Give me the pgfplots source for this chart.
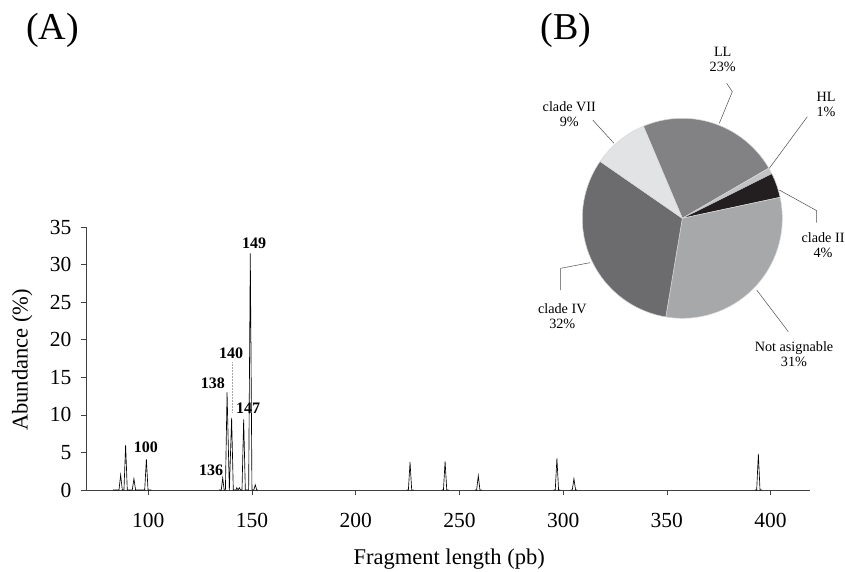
\documentclass[border=0pt]{standalone}
\usepackage{fontspec}
\setmainfont{Liberation Serif}
\usepackage{pgfplots}
\pgfplotsset{compat=1.18}
\usepackage{pgfplotstable}

\definecolor{cLL}{HTML}{828285}
\definecolor{cHL}{HTML}{C2C3C5}
\definecolor{cII}{HTML}{231F20}
\definecolor{cNA}{HTML}{A7A8AA}
\definecolor{cIV}{HTML}{6C6C6F}
\definecolor{cVII}{HTML}{E2E3E4}

% Fragment length (pb) vs abundance (%)
\pgfplotstableread{
x y
83 0
85.9 0
86.7 2.0
87.5 0
88.3 0
89.1 6.0
89.9 0
92.3 0
93.1 1.5
93.9 0
98.3 0
99.1 4.1
99.9 0
101.5 0
nan nan
134 0
135.2 0
135.9 1.6
136.6 0
137.2 0
138.0 13.0
139.1 0
140.2 9.6
141.0 0
142.3 0
142.7 0.3
143.3 0
143.9 0.3
144.5 0
145.2 0
146.0 9.4
146.8 0
148.4 0
149.2 31.5
150.0 0
150.9 0
151.6 0.7
152.3 0
152.9 0
nan nan
224.5 0
225.4 0
226.2 3.7
227.0 0
227.9 0
nan nan
241.4 0
242.3 0
243.1 3.8
243.9 0
244.8 0
nan nan
257.5 0
258.3 0
259.1 1.9
259.9 0
260.7 0
nan nan
295.4 0
296.2 0
297.0 4.2
297.8 0
298.7 0
nan nan
303.6 0
304.4 0
305.2 1.5
306.0 0
306.8 0
nan nan
392.4 0
393.3 0
394.1 4.8
394.9 0
395.8 0
}\peaks

\begin{document}
\begin{tikzpicture}
\path[use as bounding box] (0pt,0pt) rectangle (845pt,571pt);

\node[font=\fontsize{38}{40}\selectfont] at (52.5pt,541pt) {(A)};
\node[font=\fontsize{38}{40}\selectfont] at (566pt,541pt) {(B)};

\begin{axis}[
  at={(86pt,81pt)}, anchor=south west,
  scale only axis, width=724pt, height=263pt,
  xmin=70, xmax=419, ymin=0, ymax=35,
  axis x line*=bottom, axis y line*=left,
  axis line style={-, black!75, line width=0.7pt},
  xtick={100,150,...,400}, ytick={0,5,...,35},
  tick align=outside, major tick length=5pt,
  tick style={black!75, line width=0.6pt},
  /pgf/number format/assume math mode=true,
  ticklabel style={font=\fontsize{21.5}{24}\selectfont},
  xticklabel style={yshift=-15pt},
  yticklabel style={xshift=-6pt},
  xlabel={Fragment length (pb)}, ylabel={Abundance (\%)},
  label style={font=\fontsize{22.5}{26}\selectfont},
  xlabel style={at={(axis description cs:0.5017,-0.285)}, anchor=base},
  ylabel style={at={(axis description cs:-0.088,0.494)}, anchor=center},
  clip=false, unbounded coords=jump,
]
\addplot[black, line width=0.65pt, mark=none] table[x=x,y=y] {\peaks};
\addplot[black!35, densely dotted, line width=0.5pt, mark=none] coordinates {(140.5,17) (140.5,10.3)};
\begin{scope}[every node/.style={font=\bfseries\fontsize{16}{18}\selectfont}]
\node at (axis cs:151,32.9) {149};
\node at (axis cs:139.9,18.2) {140};
\node at (axis cs:131.2,14.2) {138};
\node at (axis cs:148.1,10.9) {147};
\node at (axis cs:98.9,5.7) {100};
\node at (axis cs:130.3,2.6) {136};
\end{scope}
\end{axis}

% pie: LL 23, HL 1, clade II 4, Not asignable 31, clade IV 32, clade VII 9
\pgfmathsetmacro\aA{112.9}
\pgfmathsetmacro\aB{\aA-3.6*23}
\pgfmathsetmacro\aC{\aB-3.6*1}
\pgfmathsetmacro\aD{\aC-3.6*4}
\pgfmathsetmacro\aE{\aD-3.6*31}
\pgfmathsetmacro\aF{\aE-3.6*32}
\pgfmathsetmacro\aG{\aF-3.6*9}
\begin{axis}[
  at={(682.3pt,352.7pt)}, anchor=center,
  scale only axis, width=200pt, height=200pt,
  xmin=-1, xmax=1, ymin=-1, ymax=1,
  hide axis, clip=false,
]
\addplot[fill=cLL, draw=white!85!black, line width=0.5pt, domain=\aB:\aA, samples=60] ({cos(x)},{sin(x)}) -- (0,0) -- cycle;
\addplot[fill=cHL, draw=white!85!black, line width=0.5pt, domain=\aC:\aB, samples=10] ({cos(x)},{sin(x)}) -- (0,0) -- cycle;
\addplot[fill=cII, draw=white!85!black, line width=0.5pt, domain=\aD:\aC, samples=15] ({cos(x)},{sin(x)}) -- (0,0) -- cycle;
\addplot[fill=cNA, draw=white!85!black, line width=0.5pt, domain=\aE:\aD, samples=80] ({cos(x)},{sin(x)}) -- (0,0) -- cycle;
\addplot[fill=cIV, draw=white!85!black, line width=0.5pt, domain=\aF:\aE, samples=80] ({cos(x)},{sin(x)}) -- (0,0) -- cycle;
\addplot[fill=cVII, draw=white!85!black, line width=0.5pt, domain=\aG:\aF, samples=30] ({cos(x)},{sin(x)}) -- (0,0) -- cycle;

\begin{scope}[black!70, line width=0.5pt]
\draw (axis cs:0.444,1.35) -- (axis cs:0.50,1.266) -- (axis cs:0.37,0.95);
\draw (axis cs:1.25,1.016) -- (axis cs:0.87,0.50);
\draw (axis cs:0.97,0.283) -- (axis cs:1.344,0.076) -- (axis cs:1.344,-0.044);
\draw (axis cs:-0.896,0.983) -- (axis cs:-0.683,0.75);
\draw (axis cs:-1.216,-0.717) -- (axis cs:-1.216,-0.50) -- (axis cs:-0.923,-0.444);
\draw (axis cs:1.06,-1.134) -- (axis cs:0.744,-0.717);
\end{scope}
\begin{scope}[every node/.style={font=\fontsize{14.2}{15}\selectfont, align=center, inner sep=0pt}]
\node at (axis cs:0.404,1.593) {LL\\23\%};
\node at (axis cs:1.437,1.143) {HL\\1\%};
\node at (axis cs:1.407,-0.272) {clade II\\4\%};
\node at (axis cs:-1.13,1.043) {clade VII\\9\%};
\node at (axis cs:-1.2,-0.978) {clade IV\\32\%};
\node at (axis cs:1.117,-1.358) {Not asignable\\31\%};
\end{scope}
\end{axis}
\end{tikzpicture}
\end{document}
